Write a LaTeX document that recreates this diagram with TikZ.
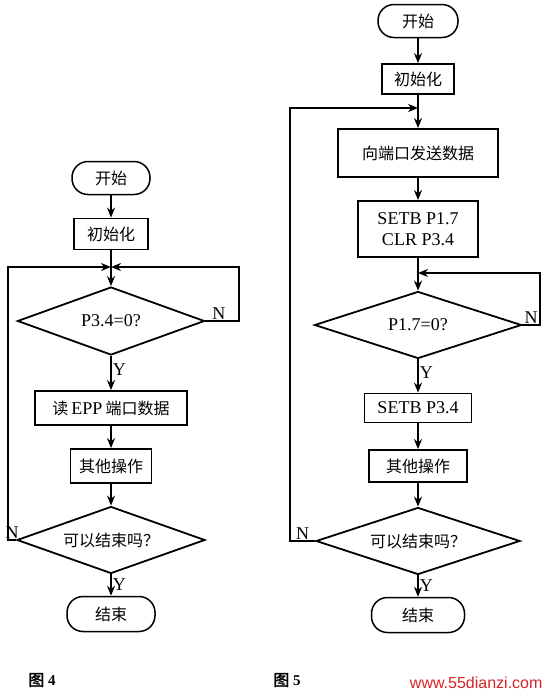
\documentclass[tikz,border=0pt]{standalone}
\usepackage{fontspec}
\setmainfont{Liberation Serif}
\newfontfamily\cjk[AutoFakeBold=2]{Noto Sans CJK SC}
\newfontfamily\webfont{Liberation Sans}
\newcommand\zh[1]{{\cjk\fontsize{16}{20}\selectfont #1}}
\usetikzlibrary{arrows.meta,shapes.geometric}
\definecolor{sitered}{RGB}{215,35,40}
\tikzset{
    box/.style={draw, line width=1.8pt, inner sep=2pt, align=center,
                font=\fontsize{18}{21}\selectfont},
    terminal/.style={box, line width=1.5pt, rounded corners=16pt},
    choice/.style={diamond, draw, line width=1.8pt, inner sep=0pt, aspect=3,
                   align=center, font=\fontsize{18}{21}\selectfont},
    flow/.style={-{Stealth[length=10pt,width=8pt]}, line width=1.8pt},
    link/.style={line width=1.8pt},
    note/.style={font=\fontsize{18}{21}\selectfont, inner sep=1pt},
    figlabel/.style={font=\fontsize{15}{18}\selectfont\bfseries},
}
\begin{document}
\begin{tikzpicture}[x=1pt,y=-1pt]
    \useasboundingbox (0,0) rectangle (549,696);

    % figure 4
    \node[terminal, minimum width=78pt, minimum height=33pt] (start4) at (111,178) {\zh{开始}};
    \node[box, minimum width=74pt, minimum height=31pt] (init4) at (111,234) {\zh{初始化}};
    \coordinate (join4) at (111,267);
    \node[choice, minimum width=187pt, minimum height=68pt] (wait4) at (111,321) {P3.4=0?};
    \node[box, minimum width=152pt, minimum height=34pt] (read4) at (111,408) {\zh{读}\,EPP\,\zh{端口数据}};
    \node[box, minimum width=81pt, minimum height=34pt] (other4) at (111,466) {\zh{其他操作}};
    \node[choice, minimum width=188pt, minimum height=67pt] (end4) at (111,540) {\zh{可以结束吗？}};
    \node[terminal, minimum width=88pt, minimum height=35pt] (stop4) at (111,614) {\zh{结束}};
    \coordinate (back4) at (239,267);
    \coordinate (loop4) at (8,267);
    \draw[flow] (start4) -- (init4);
    \draw[link] (init4) -- (join4);
    \draw[flow] (join4) -- (wait4);
    \draw[flow] (wait4) -- node[right,note,pos=0.4] {Y} (read4);
    \draw[flow] (read4) -- (other4);
    \draw[flow] (other4) -- (end4);
    \draw[flow] (end4) -- node[right,note] {Y} (stop4);
    \draw[flow] (wait4.east) -| node[pos=0.2,above,note] {N} (back4) -- (join4);
    \draw[flow] (end4.west) -| node[pos=0.25,above,note] {N} (loop4) -- (join4);
    \node[figlabel] (fig4) at (42,680) {\zh{图} 4};

    % figure 5
    \node[terminal, minimum width=80pt, minimum height=33pt] (start5) at (418,21) {\zh{开始}};
    \node[box, minimum width=72pt, minimum height=30pt] (init5) at (418,79) {\zh{初始化}};
    \coordinate (join5) at (418,108);
    \node[box, minimum width=160pt, minimum height=48pt] (send5) at (418,153) {\zh{向端口发送数据}};
    \node[box, minimum width=120pt, minimum height=56pt] (set5) at (418,229) {SETB P1.7\\CLR P3.4};
    \coordinate (join5b) at (418,273);
    \node[choice, minimum width=207pt, minimum height=67pt] (wait5) at (418,325) {P1.7=0?};
    \node[box, minimum width=107pt, minimum height=29pt] (setb5) at (418,408) {SETB P3.4};
    \node[box, minimum width=98pt, minimum height=32pt] (other5) at (418,466) {\zh{其他操作}};
    \node[choice, minimum width=204pt, minimum height=67pt] (end5) at (418,541) {\zh{可以结束吗？}};
    \node[terminal, minimum width=93pt, minimum height=35pt] (stop5) at (418,615) {\zh{结束}};
    \coordinate (back5) at (540,273);
    \coordinate (loop5) at (290,108);
    \draw[flow] (start5) -- (init5);
    \draw[link] (init5) -- (join5);
    \draw[flow] (join5) -- (send5);
    \draw[flow] (send5) -- (set5);
    \draw[link] (set5) -- (join5b);
    \draw[flow] (join5b) -- (wait5);
    \draw[flow] (wait5) -- node[right,note,pos=0.4] {Y} (setb5);
    \draw[flow] (setb5) -- (other5);
    \draw[flow] (other5) -- (end5);
    \draw[flow] (end5) -- node[right,note] {Y} (stop5);
    \draw[flow] (wait5.east) -| node[pos=0.25,above,note] {N} (back5) -- (join5b);
    \draw[flow] (end5.west) -| node[pos=0.25,above,note] {N} (loop5) -- (join5);
    \node[figlabel] (fig5) at (287,680) {\zh{图} 5};
    \node[anchor=east, text=sitered, font=\webfont\fontsize{16}{18}\selectfont] (site) at (546,683) {www.55dianzi.com};

\end{tikzpicture}
\end{document}
